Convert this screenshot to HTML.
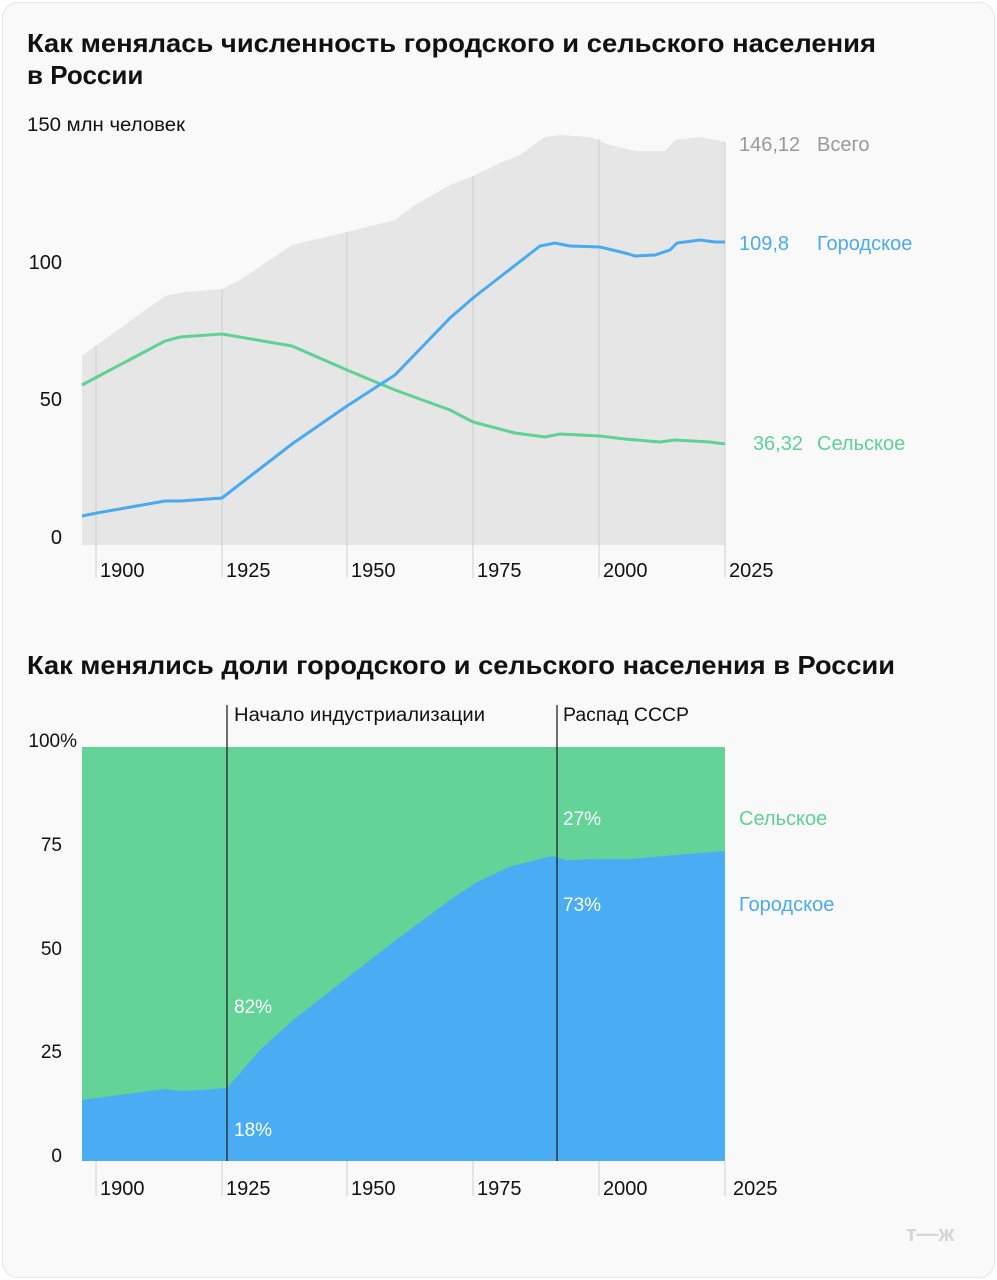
<!DOCTYPE html>
<html><head><meta charset="utf-8"><style>
body{margin:0;background:#fff;width:997px;height:1280px;overflow:hidden;font-family:"Liberation Sans",sans-serif}
.card{position:absolute;left:2px;top:2px;width:991px;height:1274px;background:#f9f9f9;border:1px solid #e6e6e6;border-radius:16px}
svg{position:absolute;left:0;top:0}
</style></head><body>
<div class="card"></div>
<svg width="997" height="1280" viewBox="0 0 997 1280" font-family="Liberation Sans, sans-serif">
<text x="27" y="52" font-size="26" font-weight="bold" fill="#111" textLength="849" lengthAdjust="spacingAndGlyphs">Как менялась численность городского и сельского населения</text>
<text x="27" y="84" font-size="26" font-weight="bold" fill="#111">в России</text>
<text x="27" y="131" font-size="19" fill="#111" textLength="158" lengthAdjust="spacingAndGlyphs">150 млн человек</text>
<path d="M82,356 L97,345 L165,296 L185,292 L222,289 L240,280 L292,245 L347,232 L395,220 L415,205 L450,185 L473,176 L500,163 L520,155 L545,137 L560,135 L590,137 L610,145 L635,151 L665,151 L675,140 L700,137 L725,142 L725,545 L82,545 Z" fill="#e6e6e6"/>
<g stroke="#cfcfcf" stroke-width="1">
<line x1="96" y1="345" x2="96" y2="578"/><line x1="222" y1="289" x2="222" y2="578"/><line x1="347" y1="232" x2="347" y2="578"/><line x1="473" y1="176" x2="473" y2="578"/><line x1="599" y1="139" x2="599" y2="578"/><line x1="725" y1="142" x2="725" y2="578"/>
</g>
<polyline fill="none" stroke="#5fd193" stroke-width="3" points="82,385 97,377 165,341 180,337 222,334 292,346 347,370 395,390 450,410 473,422 515,433 545,437 560,434 600,436 625,439 660,442 675,440 710,442 725,444"/>
<polyline fill="none" stroke="#4aaaf0" stroke-width="3" points="82,516 97,513 165,501 180,501 222,498 292,444 347,406 395,375 450,318 473,298 500,277 540,246 555,243 570,246 600,247 625,253 635,256 655,255 670,250 677,243 700,240 715,242 725,242"/>
<g font-size="20" fill="#111">
<text x="62" y="269" text-anchor="end">100</text><text x="62" y="406" text-anchor="end">50</text><text x="62" y="544" text-anchor="end">0</text>
<text x="100" y="577">1900</text><text x="226" y="577">1925</text><text x="351" y="577">1950</text><text x="477" y="577">1975</text><text x="603" y="577">2000</text><text x="729" y="577">2025</text>
</g>
<g font-size="20">
<text x="739" y="151" fill="#999">146,12</text><text x="817" y="151" fill="#999">Всего</text>
<text x="739" y="250" fill="#4aaaf0">109,8</text><text x="817" y="250" fill="#4aaaf0">Городское</text>
<text x="803" y="450" text-anchor="end" fill="#5fd193">36,32</text><text x="817" y="450" fill="#5fd193">Сельское</text>
</g>
<text x="27" y="674" font-size="26" font-weight="bold" fill="#111" textLength="868" lengthAdjust="spacingAndGlyphs">Как менялись доли городского и сельского населения в России</text>
<rect x="82" y="747" width="643" height="414" fill="#63d397"/>
<path d="M82,1100 L165,1089 L180,1091 L200,1090 L227,1088 L260,1050 L292,1021 L347,978 L400,937 L450,900 L477,882 L509,867 L540,859 L553,856 L566,860 L600,859 L630,859 L665,856 L700,853 L725,851 L725,1161 L82,1161 Z" fill="#4aacf2"/>
<g stroke="#cfcfcf"><line x1="96" y1="1161" x2="96" y2="1196"/><line x1="222" y1="1161" x2="222" y2="1196"/><line x1="347" y1="1161" x2="347" y2="1196"/><line x1="473" y1="1161" x2="473" y2="1196"/><line x1="599" y1="1161" x2="599" y2="1196"/><line x1="725" y1="1161" x2="725" y2="1196"/></g>
<g stroke="#222" stroke-width="1.3"><line x1="227" y1="705" x2="227" y2="1161"/><line x1="557" y1="705" x2="557" y2="1161"/></g>
<g font-size="19" fill="#111">
<text x="234" y="721" textLength="251" lengthAdjust="spacingAndGlyphs">Начало индустриализации</text><text x="563" y="721" textLength="126" lengthAdjust="spacingAndGlyphs">Распад СССР</text>
<text x="77" y="747" text-anchor="end">100%</text><text x="62" y="851" text-anchor="end">75</text><text x="62" y="955" text-anchor="end">50</text><text x="62" y="1058" text-anchor="end">25</text><text x="62" y="1162" text-anchor="end">0</text>
</g>
<g font-size="20" fill="#111">
<text x="100" y="1195">1900</text><text x="226" y="1195">1925</text><text x="351" y="1195">1950</text><text x="477" y="1195">1975</text><text x="603" y="1195">2000</text><text x="733" y="1195">2025</text>
</g>
<g font-size="19" fill="#fff">
<text x="234" y="1013">82%</text><text x="234" y="1136">18%</text><text x="563" y="825">27%</text><text x="563" y="911">73%</text>
</g>
<text x="739" y="825" font-size="20" fill="#5fd193">Сельское</text>
<text x="739" y="911" font-size="20" fill="#4aaaf0">Городское</text>
<text x="930" y="1241" font-size="22" font-weight="bold" fill="#d6d6d6" text-anchor="middle">т—ж</text>
</svg>
</body></html>
